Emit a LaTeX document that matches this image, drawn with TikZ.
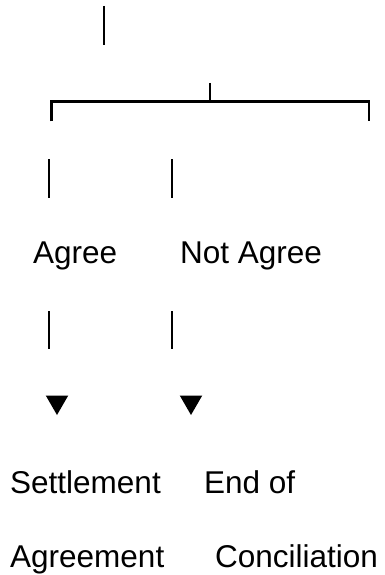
\documentclass[tikz,border=0pt]{standalone}
\usepackage{fontspec}
\setmainfont{Liberation Sans}
\usetikzlibrary{shapes.geometric}
\begin{document}
\begin{tikzpicture}[x=1pt,y=-1pt,
  bar/.style={line width=2.8pt,line cap=butt},
  lbl/.style={anchor=base west,inner sep=0pt,font=\fontsize{31.5}{36}\selectfont},
  tri/.style={regular polygon,regular polygon sides=3,shape border rotate=180,
    fill=black,inner sep=0pt,minimum size=26pt}]
\useasboundingbox (0,0) rectangle (385,575);
% top bar
\coordinate (t1) at (104,6);
\coordinate (t2) at (104,45);
\draw[bar] (t1) -- (t2);
% bracket
\coordinate (bm) at (210,83);
\coordinate (bmj) at (210,101.5);
\coordinate (bl) at (51.5,101.5);
\coordinate (blb) at (51.5,121.5);
\coordinate (br) at (369,101.5);
\coordinate (brb) at (369,121.5);
\draw[bar] (bm) -- (bmj);
\draw[bar,line join=miter] (blb) -- (bl) -- (br) -- (brb);
% first bars
\coordinate (a1) at (49,159);
\coordinate (a2) at (49,198);
\coordinate (n1) at (172,159);
\coordinate (n2) at (172,198);
\draw[bar] (a1) -- (a2);
\draw[bar] (n1) -- (n2);
% labels
\node[lbl] (agree) at (33,263) {Agree};
\node[lbl] (notagree) at (180,263) {Not Agree};
% second bars
\coordinate (a3) at (49,311);
\coordinate (a4) at (49,349);
\coordinate (n3) at (172,311);
\coordinate (n4) at (172,349);
\draw[bar] (a3) -- (a4);
\draw[bar] (n3) -- (n4);
% arrowheads
\node[tri] (ta) at (57,402) {};
\node[tri] (tn) at (191,402) {};
% outcomes
\node[lbl] (settle) at (10,493) {Settlement};
\node[lbl] (endof) at (204,493) {End of};
\node[lbl] (agreement) at (10,567) {Agreement};
\node[lbl] (concil) at (215,567) {Conciliation};
\end{tikzpicture}
\end{document}
